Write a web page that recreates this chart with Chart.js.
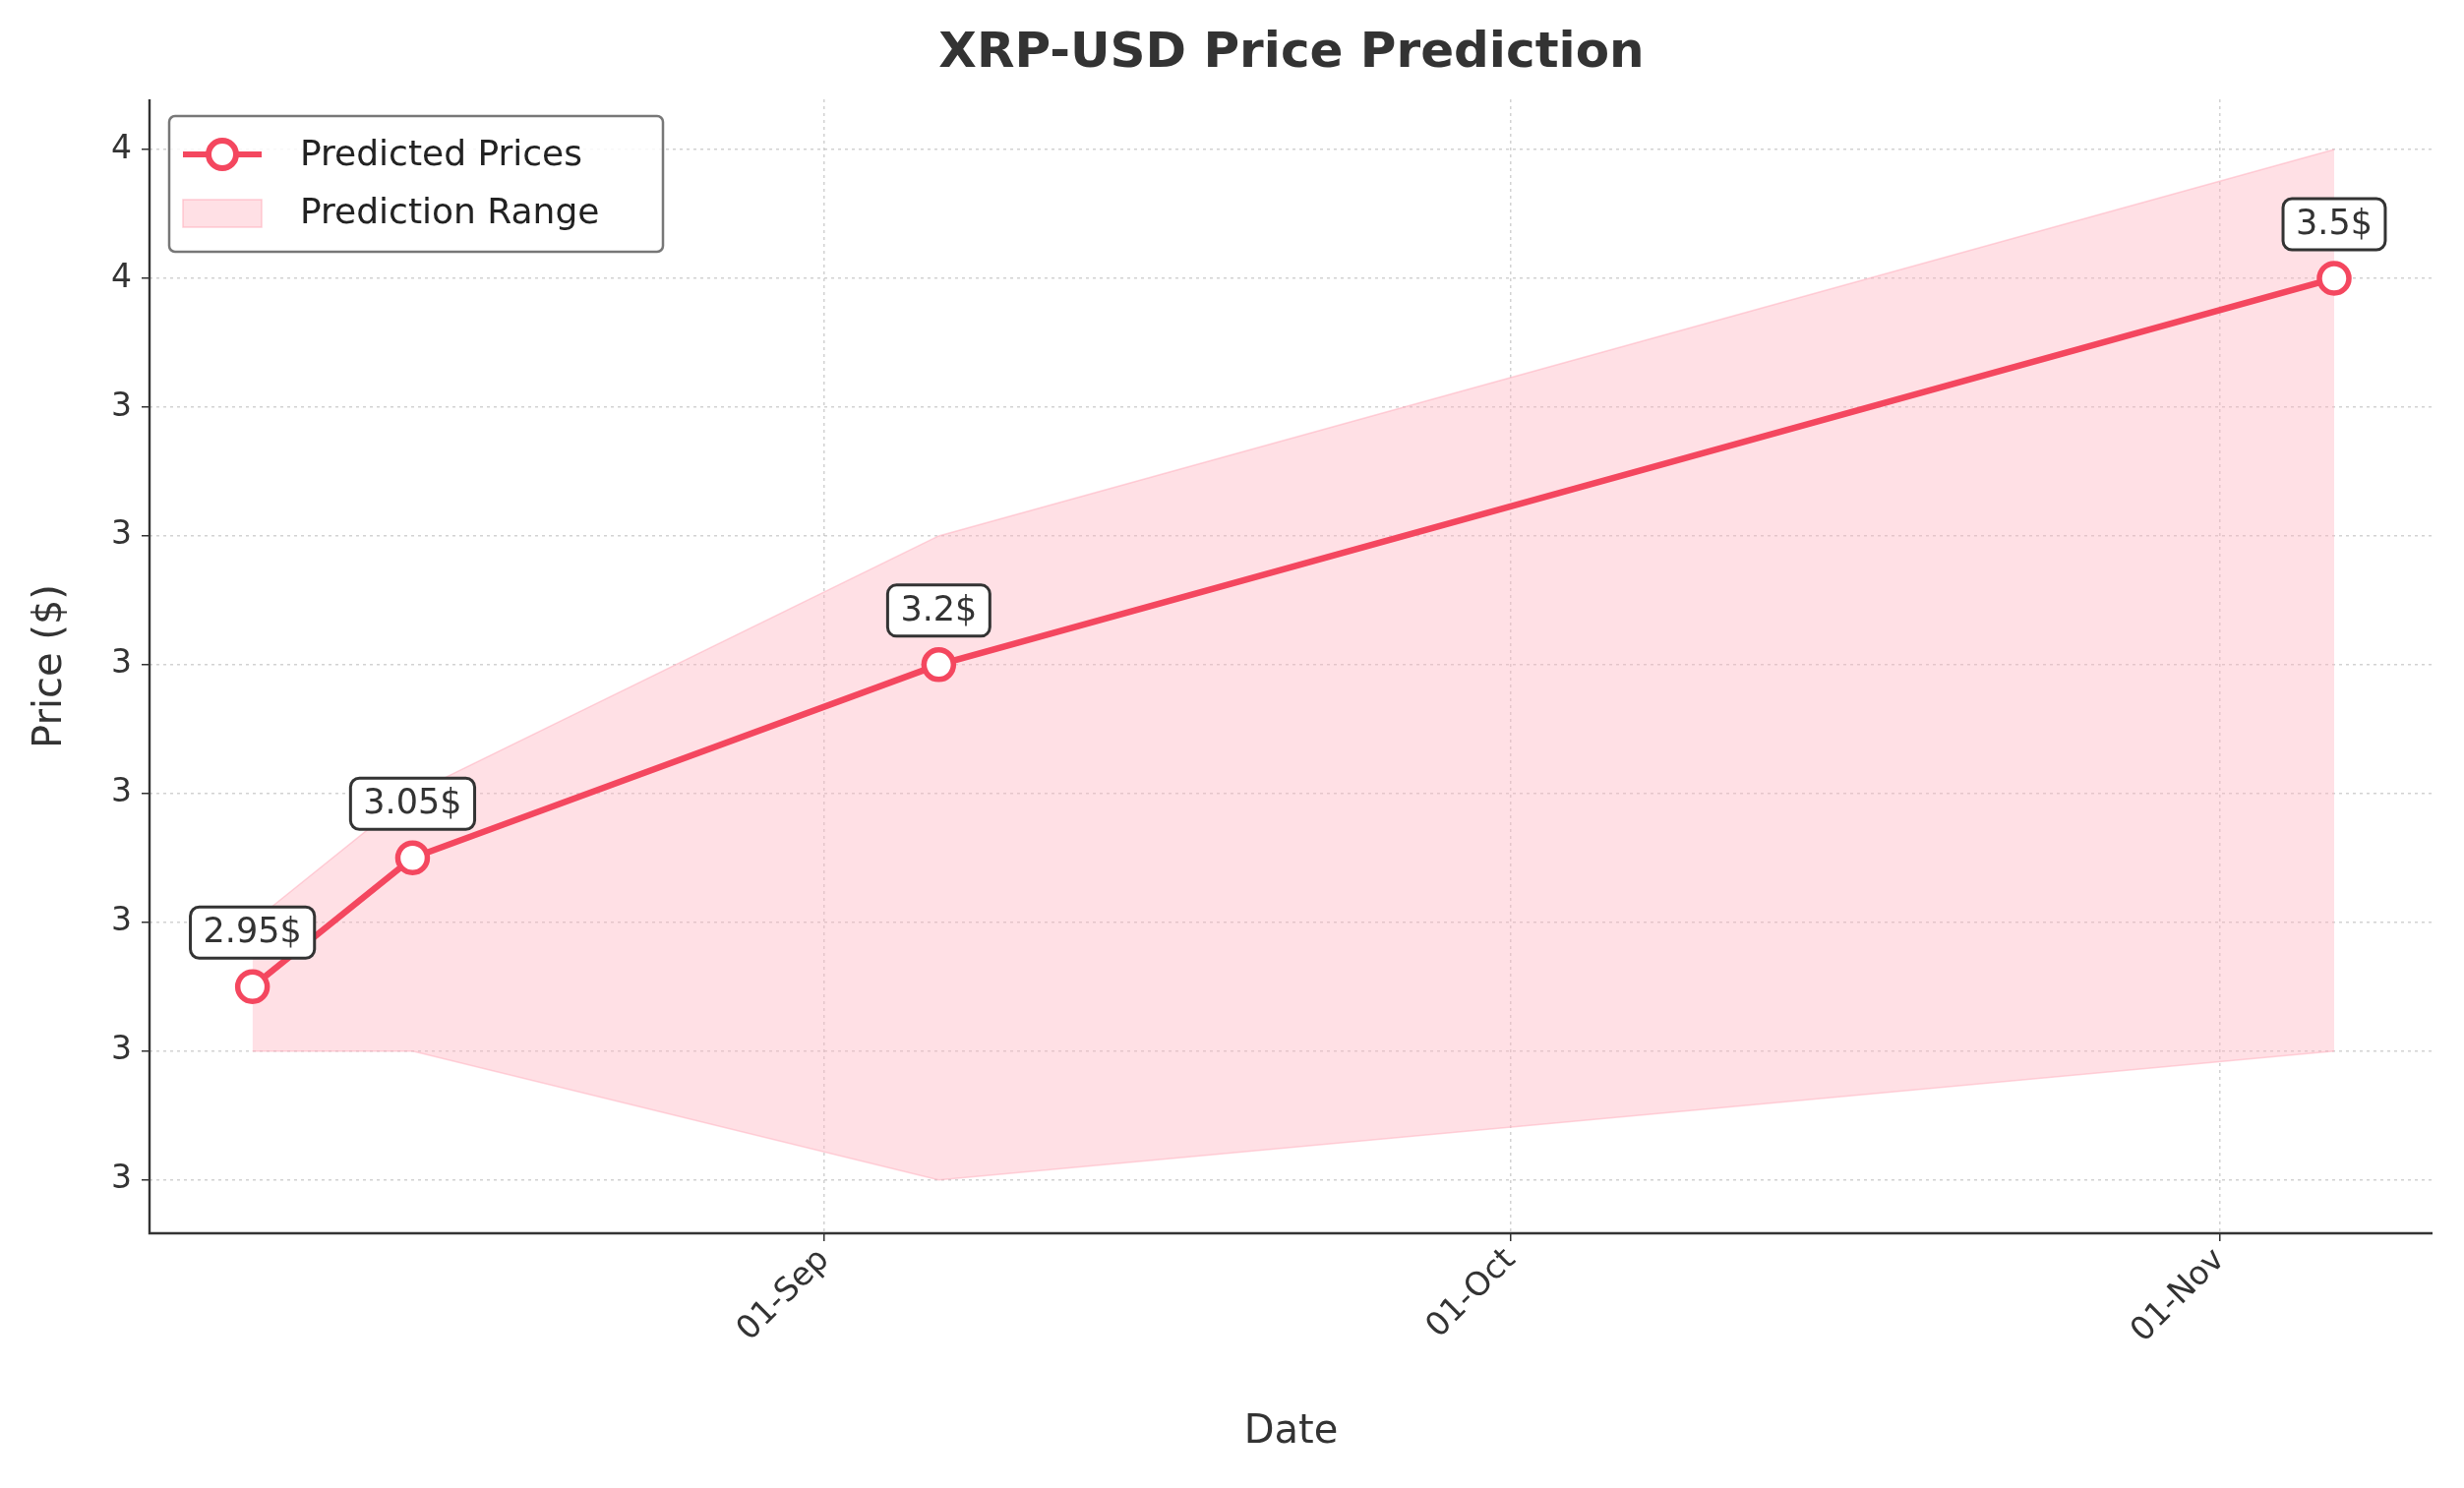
<!DOCTYPE html>
<html><head><meta charset="utf-8">
<script src="https://cdn.jsdelivr.net/npm/chart.js@4"></script>
<style>html,body{margin:0;padding:0;background:#fff}</style>
</head><body>
<canvas id="c" width="2505" height="1513"></canvas>
<script>
// days relative to 01-Sep
const dayOffsets = [-25, -18, 5, 66];
const predicted = [2.95, 3.05, 3.2, 3.5];
const upper = [3.0, 3.1, 3.3, 3.6];
const lower = [2.9, 2.9, 2.8, 2.9];
const labels = ['2.95$', '3.05$', '3.2$', '3.5$'];
const xTickDays = [0, 30, 61];
const xTickLabels = ['01-Sep', '01-Oct', '01-Nov'];
const yTickValues = [2.8, 2.9, 3.0, 3.1, 3.2, 3.3, 3.4, 3.5, 3.6];
const yTickLabels = ['3', '3', '3', '3', '3', '3', '3', '4', '4'];

const LINE = '#f4475f';
const FILLC = 'rgba(255,182,193,0.42)';
const FONT = 'DejaVu Sans';
const pts = a => a.map((v, i) => ({x: dayOffsets[i], y: v}));

const deco = {
  id: 'deco',
  afterDraw(ch) {
    const c = ch.ctx, xs = ch.scales.x, ys = ch.scales.y, a = ch.chartArea;
    c.save();
    c.strokeStyle = '#333'; c.lineWidth = 2.4;
    c.beginPath(); c.moveTo(a.left, a.top); c.lineTo(a.left, a.bottom); c.lineTo(a.right, a.bottom); c.stroke();
    c.fillStyle = '#333'; c.textAlign = 'center'; c.textBaseline = 'middle';
    c.font = 'bold 50px ' + FONT;
    c.fillText('XRP-USD Price Prediction', 1313, 55);
    c.font = '40px ' + FONT;
    c.fillText('Date', (a.left + a.right) / 2, 1457);
    c.save(); c.translate(52, (a.top + a.bottom) / 2); c.rotate(-Math.PI / 2);
    c.fillText('Price ($)', 0, 0); c.restore();
    c.font = '35px ' + FONT;
    predicted.forEach((v, i) => {
      const px = xs.getPixelForValue(dayOffsets[i]);
      const py = ys.getPixelForValue(v) - 55;
      const w = c.measureText(labels[i]).width + 26, h = 52;
      c.beginPath(); c.roundRect(px - w / 2, py - h / 2, w, h, 9);
      c.fillStyle = '#fff'; c.fill(); c.strokeStyle = '#333'; c.lineWidth = 3; c.stroke();
      c.fillStyle = '#333'; c.fillText(labels[i], px, py + 1);
    });
    const lx = 172, ly = 118, lw = 502, lh = 138;
    c.beginPath(); c.roundRect(lx, ly, lw, lh, 6);
    c.fillStyle = 'rgba(255,255,255,0.85)'; c.fill(); c.strokeStyle = '#777'; c.lineWidth = 2.5; c.stroke();
    c.strokeStyle = LINE; c.lineWidth = 6;
    c.beginPath(); c.moveTo(186, 157); c.lineTo(266, 157); c.stroke();
    c.beginPath(); c.arc(226, 157, 14, 0, Math.PI * 2); c.fillStyle = '#fff'; c.fill(); c.stroke();
    c.fillStyle = FILLC; c.fillRect(186, 203, 80, 28);
    c.strokeStyle = 'rgba(255,160,175,0.5)'; c.lineWidth = 1.5; c.strokeRect(186, 203, 80, 28);
    c.fillStyle = '#222'; c.textAlign = 'left'; c.font = '36px ' + FONT;
    c.fillText('Predicted Prices', 305, 159); c.fillText('Prediction Range', 305, 218);
    c.restore();
  }
};

new Chart(document.getElementById('c'), {
  type: 'line',
  data: { datasets: [
    { data: pts(upper), borderWidth: 1.5, borderColor: 'rgba(255,170,185,0.5)', backgroundColor: FILLC, fill: '+1', pointRadius: 0, tension: 0, order: 2 },
    { data: pts(lower), borderWidth: 1.5, borderColor: 'rgba(255,170,185,0.5)', fill: false, pointRadius: 0, tension: 0, order: 2 },
    { data: pts(predicted), borderColor: LINE, borderWidth: 6.5, pointRadius: 15, pointBorderWidth: 5.5, pointBackgroundColor: '#fff', pointBorderColor: LINE, fill: false, tension: 0, order: 1 }
  ]},
  options: {
    responsive: false, devicePixelRatio: 1, animation: false,
    layout: { padding: { top: 101, right: 32, left: 0, bottom: 0 } },
    plugins: { legend: { display: false }, tooltip: { enabled: false } },
    scales: {
      x: { type: 'linear', min: -29.5, max: 70.3,
        afterBuildTicks: s => { s.ticks = xTickDays.map(v => ({value: v})); },
        afterFit: s => { s.height = 259; },
        ticks: { callback: (v) => xTickLabels[xTickDays.indexOf(v)], minRotation: 45, maxRotation: 45, color: '#333', font: { family: FONT, size: 33 }, padding: 0 },
        grid: { color: 'rgba(180,180,180,0.6)', lineWidth: 1.5, drawTicks: true, tickLength: 8, tickColor: '#333' },
        border: { display: false, dash: [3, 4] } },
      y: { min: 2.7585, max: 3.639,
        afterBuildTicks: s => { s.ticks = yTickValues.map(v => ({value: v})); },
        afterFit: s => { s.width = 152; },
        ticks: { callback: (v) => yTickLabels[yTickValues.findIndex(t => Math.abs(t - v) < 1e-6)], color: '#333', font: { family: FONT, size: 33 }, padding: 10 },
        grid: { color: 'rgba(180,180,180,0.6)', lineWidth: 1.5, drawTicks: true, tickLength: 8, tickColor: '#333' },
        border: { display: false, dash: [3, 4] } }
    }
  },
  plugins: [deco]
});
</script>
</body></html>
